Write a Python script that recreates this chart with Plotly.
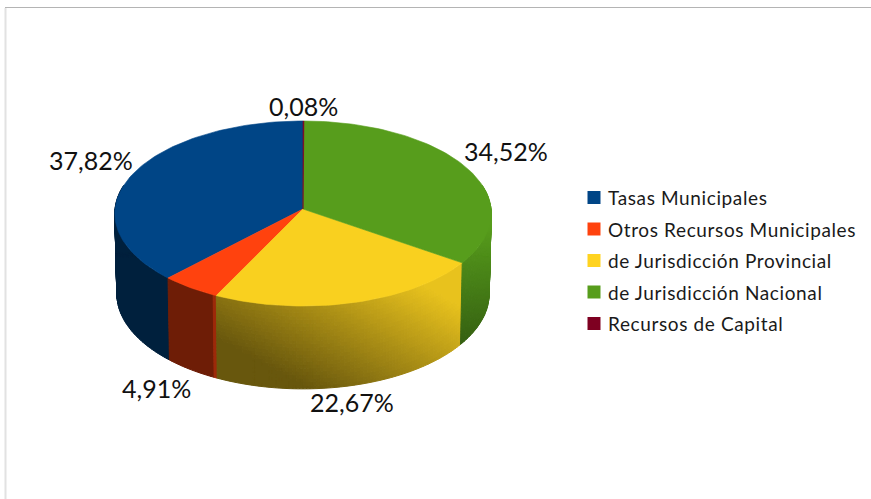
import math
import plotly.graph_objects as go

categories = ["Tasas Municipales", "Otros Recursos Municipales", "de Jurisdicción Provincial",
              "de Jurisdicción Nacional", "Recursos de Capital"]
values = [37.82, 4.91, 22.67, 34.52, 0.08]
colors = ["#004586", "#ff420e", "#f9d01f", "#579d1c", "#7e0021"]
legend_colors = ["#004586", "#ff420e", "#ffd320", "#579d1c", "#7e0021"]

W, H = 871, 499
CX = 303
TOP = dict(cy=209, rx=188, ry=92.3)
BOT = dict(cy=289, rx=186, ry=95)
K = 0.0487
LEGEND_X, LEGEND_Y = 594, [197.5, 229, 260.5, 292, 323.5]
# label offset from the top rim point at each slice's mid angle
LABEL_OFF = [(-41, -15), (-34, 100), (-1, 99), (40, -16), (0, -15)]
LABEL_SIZE, LEGEND_SIZE = 25, 19
FONT = "Lato"
LEVELS = 120


def proj(t, ring, r=1.0):
    X, Y = -math.sin(t) * r, -math.cos(t) * r
    s = 1 / (1 - K * Y)
    return CX + ring["rx"] * X * s, ring["cy"] + ring["ry"] * Y * s


def shade(hex_c, f):
    f = max(0, min(1, f))
    r, g, b = (int(hex_c[i:i + 2], 16) for i in (1, 3, 5))
    return f"rgb({round(r * f)},{round(g * f)},{round(b * f)})"


def shade_blue(x, y, u): return 0.46
def shade_orange(x, y, u): return 0.43 if u < 0.94 else 0.43 + (u - 0.94) * 6
def shade_yellow(x, y, u): return max(0.42, min(0.93, 0.693 + 0.0017 * (x - 303) - 0.0031 * (y - 296)))
def shade_green(x, y, u): return min(1.0, 0.95 - 0.0033 * (y - 240))
def shade_cap(x, y, u): return 0.5


shaders = [shade_blue, shade_orange, shade_yellow, shade_green, shade_cap]
total = sum(values)
edges = [0.0]
for v in values:
    edges.append(edges[-1] + v / total * 2 * math.pi)

fig = go.Figure()

# side wall: cells of equal shade are merged into one trace per shade level
for i in range(len(values)):
    a0, a1 = edges[i], edges[i + 1]
    lo, hi = max(a0, math.radians(75)), min(a1, math.radians(285))
    if hi <= lo:
        continue
    n_t = max(1, int(math.degrees(hi - lo) / 1.0))
    n_v = 24
    bands = {}
    for j in range(n_t):
        t0 = lo + (hi - lo) * j / n_t
        t1 = lo + (hi - lo) * (j + 1) / n_t
        for k in range(n_v):
            v0, v1 = k / n_v, (k + 1) / n_v
            pts = []
            for t, v in ((t0, v0), (t1, v0), (t1, v1), (t0, v1)):
                xa, ya = proj(t, TOP)
                xb, yb = proj(t, BOT)
                pts.append((xa + (xb - xa) * v, ya + (yb - ya) * v))
            mx = sum(p[0] for p in pts) / 4
            my = sum(p[1] for p in pts) / 4
            level = round(shaders[i](mx, my, (j + 0.5) / n_t) * LEVELS)
            bx, by = bands.setdefault(level, ([], []))
            bx.extend([p[0] for p in pts] + [pts[0][0], None])
            by.extend([p[1] for p in pts] + [pts[0][1], None])
    for level in sorted(bands):
        c = shade(colors[i], level / LEVELS)
        fig.add_trace(go.Scatter(x=bands[level][0], y=bands[level][1], mode="lines", fill="toself",
                                 fillcolor=c, line=dict(color=c, width=1),
                                 hoverinfo="skip", showlegend=False))

# top wedges
for i in range(len(values)):
    a0, a1 = edges[i], edges[i + 1]
    n = max(2, int(math.degrees(a1 - a0) / 1.5))
    xs, ys = [CX], [TOP["cy"]]
    for j in range(n + 1):
        x, y = proj(a0 + (a1 - a0) * j / n, TOP)
        xs.append(x)
        ys.append(y)
    xs.append(CX)
    ys.append(TOP["cy"])
    fig.add_trace(go.Scatter(x=xs, y=ys, mode="lines", fill="toself", fillcolor=colors[i],
                             line=dict(color=colors[i], width=0.6), name=categories[i],
                             hoverinfo="name", showlegend=False))

# legend swatches
for i, c in enumerate(categories):
    fig.add_trace(go.Scatter(x=[LEGEND_X], y=[LEGEND_Y[i]], mode="markers", name=c,
                             marker=dict(symbol="square", size=13, color=legend_colors[i]),
                             hoverinfo="name", showlegend=False))

annotations = []
for i, v in enumerate(values):
    x, y = proj((edges[i] + edges[i + 1]) / 2, TOP)
    annotations.append(dict(x=x + LABEL_OFF[i][0], y=y + LABEL_OFF[i][1],
                            text=f"{v:.2f}".replace(".", ",") + "%", showarrow=False,
                            font=dict(family=FONT, size=LABEL_SIZE, color="#111111")))
for i, c in enumerate(categories):
    annotations.append(dict(x=LEGEND_X + 12, y=LEGEND_Y[i], text=c, showarrow=False,
                            xanchor="left", font=dict(family=FONT, size=LEGEND_SIZE, color="#1a1a1a")))

shapes = [
    dict(type="line", x0=5, x1=W, y0=7.5, y1=7.5, line=dict(color="#b4b4b4", width=1)),
    dict(type="line", x0=5.5, x1=5.5, y0=8, y1=H, line=dict(color="#e2e2e2", width=2)),
]

fig.update_layout(
    width=W, height=H, margin=dict(l=0, r=0, t=0, b=0),
    paper_bgcolor="white", plot_bgcolor="white", showlegend=False,
    xaxis=dict(range=[0, W], visible=False, fixedrange=True),
    yaxis=dict(range=[H, 0], visible=False, fixedrange=True),
    annotations=annotations, shapes=shapes,
)
spacing_js = """
document.body.style.margin='0';document.body.style.overflow='hidden';
document.querySelectorAll('.annotation-text').forEach(function(t){
  if (t.textContent.indexOf('%') < 0) {
    var box = t.getBBox();
    t.setAttribute('x', box.x);
    t.setAttribute('text-anchor', 'start');
    t.style.textAnchor = 'start';
    t.style.letterSpacing = '0.62px';
  }
});
"""
fig.write_html("out.html", config={"displayModeBar": False}, post_script=spacing_js)
